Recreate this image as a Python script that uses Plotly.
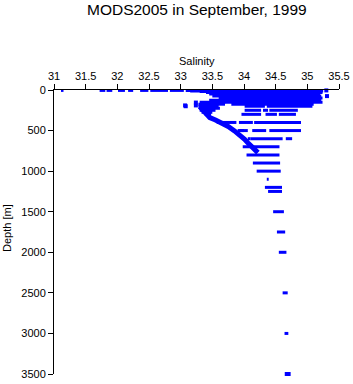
import plotly.graph_objects as go

title_text = "MODS2005 in September, 1999"
x_title = "Salinity"
y_title = "Depth [m]"
x_ticks = [31, 31.5, 32, 32.5, 33, 33.5, 34, 34.5, 35, 35.5]
y_ticks = [0, 500, 1000, 1500, 2000, 2500, 3000, 3500]

run_depth = [5, 5, 5, 5, 5, 5, 5, 5, 5,
             12, 20, 30, 50, 75, 100, 125, 150,
             175, 175, 200, 200, 200, 225,
             250, 250, 250, 250, 275,
             300, 300, 300, 300,
             400, 400, 400,
             500, 500, 500, 500,
             600, 600, 600,
             700, 800, 900, 1000, 1100, 1200, 1250,
             1500, 1750, 2000, 2500, 3000]
run_smin = [31.11, 31.72, 31.83, 32.01, 32.17, 32.36, 32.52, 32.83, 33.08,
            33.15, 33.30, 33.40, 33.45, 33.50, 33.60, 33.45, 33.30,
            33.28, 33.80, 33.28, 34.01, 34.36, 33.30,
            33.30, 34.01, 34.30, 34.40, 33.33,
            33.38, 33.96, 34.34, 34.55,
            33.57, 33.92, 34.16,
            33.93, 34.13, 34.40, 33.90,
            34.06, 34.10, 34.66,
            33.98, 34.04, 34.14, 34.20, 34.36, 34.33, 34.38,
            34.46, 34.52, 34.55, 34.61, 34.64]
run_smax = [31.15, 31.81, 31.92, 32.12, 32.25, 32.49, 32.80, 33.05, 35.24,
            35.25, 35.22, 35.24, 35.20, 35.22, 35.24, 35.22, 35.24,
            33.70, 35.10, 33.60, 34.33, 35.08, 33.62,
            33.55, 34.27, 34.38, 34.85, 33.50,
            33.48, 34.27, 34.52, 34.82,
            33.88, 34.14, 34.90,
            34.06, 34.35, 34.90, 34.00,
            34.10, 34.61, 34.76,
            34.56, 34.56, 34.57, 34.58, 34.39, 34.60, 34.60,
            34.63, 34.65, 34.67, 34.69, 34.70]

# salinity-minimum tongue: upper branch and lower diagonal
upper_sal = [33.96, 33.75, 33.51, 33.41, 33.30]
upper_depth = [93, 133, 160, 180, 200]
tongue_sal = [33.30, 33.33, 33.38, 33.46, 33.55, 33.64, 33.75, 33.85, 33.93, 34.01,
              34.06, 34.12, 34.17, 34.22]
tongue_depth = [205, 232, 280, 340, 370, 401, 450, 504, 550, 607,
                650, 700, 740, 772]

# isolated points
pt_sal = [33.07, 33.08, 33.24, 33.24, 35.31, 35.30, 34.675, 34.705]
pt_depth = [190, 200, 155, 190, 75, 5, 3500, 3500]

seg_x, seg_y = [], []
for d, a, b in zip(run_depth, run_smin, run_smax):
    seg_x += [a, b, None]
    seg_y += [d, d, None]

blue = "#0000ff"
fig = go.Figure()
fig.add_trace(go.Scatter(x=seg_x, y=seg_y, mode="lines",
                         line=dict(color=blue, width=3), hoverinfo="skip"))
fig.add_trace(go.Scatter(x=upper_sal, y=upper_depth, mode="lines",
                         line=dict(color=blue, width=4), hoverinfo="skip"))
fig.add_trace(go.Scatter(x=tongue_sal, y=tongue_depth, mode="lines",
                         line=dict(color=blue, width=5), hoverinfo="skip"))
fig.add_trace(go.Scatter(x=pt_sal, y=pt_depth, mode="markers", cliponaxis=False,
                         marker=dict(color=blue, size=4, symbol="square", line=dict(width=0))))

font = "Liberation Sans, Arial, Helvetica, sans-serif"
fig.update_layout(
    width=353, height=384,
    margin=dict(l=54, r=14, t=90, b=10, pad=0, autoexpand=False),
    paper_bgcolor="white", plot_bgcolor="white",
    showlegend=False,
    font=dict(family=font, size=11, color="black"),
    xaxis=dict(side="top", range=[31, 35.5], tickvals=x_ticks,
               ticktext=[f"{v:g}" for v in x_ticks], automargin=False,
               showline=True, linecolor="black", linewidth=1,
               ticks="outside", ticklen=5, tickcolor="black",
               showgrid=False, zeroline=False),
    yaxis=dict(range=[3500, 0], tickvals=y_ticks,
               ticktext=[str(v) for v in y_ticks], automargin=False,
               showline=True, linecolor="black", linewidth=1,
               ticks="outside", ticklen=5, tickcolor="black",
               showgrid=False, zeroline=False),
    annotations=[
        dict(text=title_text, xref="paper", yref="paper", x=0.5, y=1,
             yshift=81, showarrow=False, font=dict(size=15.5),
             xanchor="center", yanchor="middle"),
        dict(text=x_title, xref="paper", yref="paper", x=0.5, y=1,
             yshift=29, showarrow=False, font=dict(size=11),
             xanchor="center", yanchor="middle"),
        dict(text=y_title, xref="paper", yref="paper", x=0, y=0.5,
             xshift=-47, yshift=4, showarrow=False, font=dict(size=11), textangle=-90,
             xanchor="center", yanchor="middle"),
    ],
)

fig.write_html("out.html")
